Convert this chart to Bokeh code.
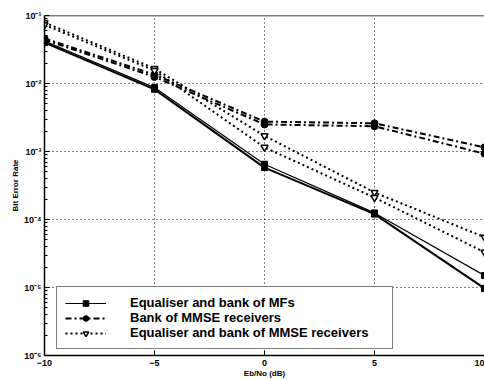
from bokeh.plotting import figure
from bokeh.models import Span, CustomJSTickFormatter, FixedTicker
from bokeh.embed import file_html
from bokeh.resources import INLINE

# Data
snr_db = [-10, -5, 0, 5, 10]
mf_a = [4.2e-2, 8.7e-3, 6.5e-4, 1.25e-4, 1.5e-5]
mf_b = [4.0e-2, 8.2e-3, 5.8e-4, 1.2e-4, 9.7e-6]
mmse_a = [4.6e-2, 1.35e-2, 2.75e-3, 2.6e-3, 1.15e-3]
mmse_b = [4.4e-2, 1.25e-2, 2.5e-3, 2.35e-3, 9.3e-4]
eqmmse_a = [7.9e-2, 1.66e-2, 1.7e-3, 2.5e-4, 5.5e-5]
eqmmse_b = [7.3e-2, 1.55e-2, 1.15e-3, 2.1e-4, 3.3e-5]

labels = ["Equaliser and bank of MFs",
          "Bank of MMSE receivers",
          "Equaliser and bank of MMSE receivers"]
x_ticks = [-10, -5, 0, 5, 10]
y_decades = [1e-6, 1e-5, 1e-4, 1e-3, 1e-2, 1e-1]
y_minor = [k * d for d in y_decades[:-1] for k in range(2, 10)]

FONT = "Liberation Sans"

p = figure(width=484, height=380, x_range=(-10, 10), y_range=(1e-6, 1e-1),
           y_axis_type="log", output_backend="svg", toolbar_location=None,
           min_border_left=44, min_border_right=0, min_border_top=15,
           min_border_bottom=25)
p.outline_line_color = None
p.background_fill_color = "white"

p.xaxis.ticker = FixedTicker(ticks=x_ticks)
p.yaxis.ticker = FixedTicker(ticks=y_decades, minor_ticks=y_minor)
p.xgrid.ticker = FixedTicker(ticks=x_ticks)
p.ygrid.ticker = FixedTicker(ticks=y_decades)

p.yaxis.formatter = CustomJSTickFormatter(code="""
const e = Math.round(Math.log10(tick));
const sup = {'-':'\u207b','0':'\u2070','1':'\u00b9','2':'\u00b2','3':'\u00b3',
             '4':'\u2074','5':'\u2075','6':'\u2076','7':'\u2077','8':'\u2078','9':'\u2079'};
return '10' + String(e).split('').map(c => sup[c]).join('');
""")

p.grid.grid_line_color = "black"
p.grid.grid_line_dash = "1 3"
p.grid.grid_line_width = 1

for ax in (p.xaxis, p.yaxis):
    ax.axis_line_color = "black"
    ax.axis_line_width = 1.5
    ax.major_tick_line_color = "black"
    ax.major_tick_in = 5
    ax.major_tick_out = 0
    ax.minor_tick_in = 3
    ax.minor_tick_out = 0
    ax.major_label_text_font = FONT
    ax.major_label_text_font_style = "bold"
    ax.major_label_text_font_size = "9px"
    ax.major_label_text_color = "black"
    ax.axis_label_text_font = FONT
    ax.axis_label_text_font_style = "bold"
    ax.axis_label_text_font_size = "8px"
    ax.axis_label_text_color = "black"

p.xaxis.major_label_standoff = 4
p.xaxis.axis_label_standoff = 0
p.yaxis.major_label_standoff = 3
p.yaxis.axis_label_standoff = 1
p.xaxis.axis_label = "Eb/No (dB)"
p.yaxis.axis_label = "Bit Error Rate"

p.add_layout(Span(location=1e-1, dimension="width", line_color="black", line_width=1.5))

# Equaliser and bank of MFs (solid, squares)
p.line(snr_db, mf_a, line_color="black", line_width=1.2, legend_label=labels[0])
p.scatter(snr_db, mf_a, marker="square", size=6, fill_color="black", line_color="black",
          legend_label=labels[0])
p.line(snr_db, mf_b, line_color="black", line_width=2)
p.scatter(snr_db, mf_b, marker="square", size=6, fill_color="black", line_color="black")

# Bank of MMSE receivers (dash-dot, circles)
p.line(snr_db, mmse_a, line_color="black", line_width=2, line_dash="6 3 2 3",
       legend_label=labels[1])
p.scatter(snr_db, mmse_a, marker="circle", size=7, fill_color="black", line_color="black",
          legend_label=labels[1])
p.line(snr_db, mmse_b, line_color="black", line_width=2, line_dash="6 3 2 3")
p.scatter(snr_db, mmse_b, marker="circle", size=7, fill_color="black", line_color="black")

# Equaliser and bank of MMSE receivers (dotted, down triangles)
p.line(snr_db, eqmmse_a, line_color="black", line_width=2, line_dash="2 3",
       legend_label=labels[2])
p.scatter(snr_db, eqmmse_a, marker="inverted_triangle", size=7, fill_color="white",
          line_color="black", line_width=1.5, legend_label=labels[2])
p.line(snr_db, eqmmse_b, line_color="black", line_width=2, line_dash="2 3")
p.scatter(snr_db, eqmmse_b, marker="inverted_triangle", size=7, fill_color="white",
          line_color="black", line_width=1.5)

lg = p.legend[0]
lg.location = (12, 6)
lg.border_line_color = "black"
lg.border_line_width = 1.5
lg.background_fill_color = "white"
lg.background_fill_alpha = 1
lg.padding = 8
lg.spacing = 0
lg.margin = 0
lg.glyph_width = 41
lg.glyph_height = 14
lg.label_height = 14
lg.label_width = 254
lg.label_standoff = 24
lg.label_text_font = FONT
lg.label_text_font_style = "bold"
lg.label_text_font_size = "13px"
lg.label_text_color = "black"

open("out.html", "w").write(file_html(p, INLINE))
